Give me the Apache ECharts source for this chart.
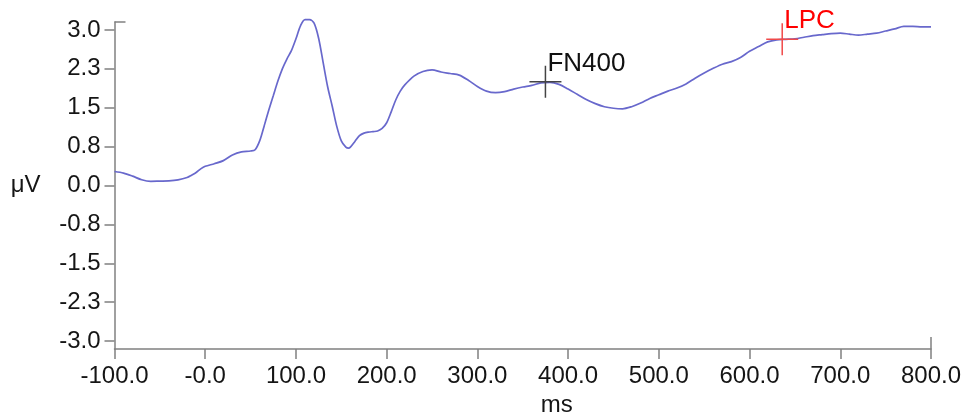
<!DOCTYPE html>
<html>
<head>
<meta charset="utf-8">
<script src="https://cdn.jsdelivr.net/npm/echarts@6/dist/echarts.min.js"></script>
<style>
  html, body { margin: 0; padding: 0; background: #fff; }
  #chart { width: 965px; height: 414px; }
</style>
</head>
<body>
<div id="chart"></div>
<script>
// ---- data ----
const times = [
  -100, -90, -80, -70, -60, -50, -40, -30, -20, -15, -10, -5,
  0, 10, 20, 30, 40, 50, 55, 60, 65, 70, 75, 80, 85, 90, 95,
  100, 105, 110, 115, 120, 125, 130, 135, 140, 145, 150, 155, 158,
  160, 165, 170, 175, 180, 185, 190, 195,
  200, 205, 210, 215, 220, 230, 240, 250, 260, 270, 280, 290,
  300, 310, 320, 330, 340, 350, 360, 370, 380, 390,
  400, 410, 420, 430, 440, 450, 460, 470, 480, 490,
  500, 510, 520, 530, 540, 550, 560, 570, 580, 590,
  600, 610, 620, 630, 640, 650, 660, 670, 680, 690,
  700, 710, 720, 730, 740, 750, 760, 770, 780, 790, 800
];
const amplitude = [
  0.27, 0.24, 0.18, 0.11, 0.08, 0.085, 0.09, 0.11, 0.155, 0.2, 0.25, 0.32,
  0.37, 0.42, 0.48, 0.59, 0.65, 0.665, 0.69, 0.86, 1.15, 1.45, 1.73, 2.01, 2.25, 2.44, 2.60,
  2.83, 3.08, 3.20, 3.20, 3.13, 2.84, 2.37, 1.90, 1.53, 1.14, 0.86, 0.74, 0.72,
  0.74, 0.85, 0.96, 1.01, 1.03, 1.04, 1.05, 1.10,
  1.21, 1.42, 1.65, 1.82, 1.94, 2.11, 2.20, 2.23, 2.19, 2.16, 2.13, 2.03,
  1.91, 1.82, 1.79, 1.81, 1.86, 1.90, 1.93, 1.98, 1.99, 1.95,
  1.86, 1.76, 1.66, 1.58, 1.52, 1.49, 1.48, 1.52, 1.59, 1.68,
  1.75, 1.82, 1.88, 1.96, 2.07, 2.17, 2.26, 2.34, 2.39, 2.47,
  2.59, 2.68, 2.77, 2.81, 2.82, 2.83, 2.86, 2.89, 2.91, 2.93,
  2.94, 2.92, 2.90, 2.92, 2.94, 2.98, 3.02, 3.07, 3.07, 3.06, 3.06
];
const yTicks = [-3, -2.25, -1.5, -0.75, 0, 0.75, 1.5, 2.25, 3];
const yRange = [-3.154, 3.154];
const xRange = [-100, 800];
const xStep = 100;
const markerNames = ['FN400', 'LPC'];
const markerTimes = [375, 636];
const markerValues = [2.0, 2.82];
const markerColors = ['#111111', '#ff0000'];
const markerCrossColors = ['#444444', '#f04a4a'];

// ---- chart ----
const FONT = "'Liberation Sans', Arial, sans-serif";
const chart = echarts.init(document.getElementById('chart'), null, { renderer: 'canvas' });

const lineData = times.map((t, i) => [t, amplitude[i]]);
const markerData = markerNames.map((n, i) => ({
  name: n,
  value: [markerTimes[i], markerValues[i]],
  itemStyle: { color: 'none', borderColor: markerCrossColors[i], borderWidth: 1.5, opacity: 1 },
  label: { color: markerColors[i] }
}));

const axisLineStyle = { color: '#808080', width: 1.5 };
const TEXT = '#151515';

chart.setOption({
  animation: false,
  backgroundColor: '#ffffff',
  grid: { left: 114.5, right: 34, top: 22, bottom: 65, containLabel: false, outerBoundsMode: 'none' },
  xAxis: {
    type: 'value',
    min: xRange[0], max: xRange[1], interval: xStep,
    name: 'ms', nameLocation: 'middle', nameGap: 42,
    nameTextStyle: { fontFamily: FONT, fontSize: 24, color: TEXT, padding: [0, 0, 0, 68] },
    axisLine: { show: true, onZero: false, lineStyle: axisLineStyle },
    axisTick: { show: true, length: 10, inside: false, lineStyle: axisLineStyle },
    axisLabel: {
      fontFamily: FONT, fontSize: 24, color: TEXT, margin: 15,
      formatter: v => (v === 0 ? '-0.0' : v.toFixed(1))
    },
    splitLine: { show: false }
  },
  yAxis: {
    type: 'value',
    min: yRange[0], max: yRange[1],
    name: 'μV', nameLocation: 'middle', nameGap: 74, nameRotate: 0,
    nameTextStyle: { fontFamily: FONT, fontSize: 24, color: TEXT },
    axisLine: { show: true, onZero: false, lineStyle: axisLineStyle },
    axisTick: { show: true, length: 10, customValues: yTicks, lineStyle: axisLineStyle },
    axisLabel: {
      fontFamily: FONT, fontSize: 24, color: TEXT, margin: 14,
      customValues: yTicks,
      formatter: v => v.toFixed(1)
    },
    splitLine: { show: false }
  },
  series: [
    {
      type: 'line',
      data: lineData,
      smooth: 0.3,
      showSymbol: false,
      symbol: 'none',
      clip: false,
      lineStyle: { color: '#6868cc', width: 1.7 },
      z: 2
    },
    {
      type: 'scatter',
      data: markerData,
      symbol: 'path://M0,16 L32,16 M16,0 L16,32',
      symbolSize: 32,
      clip: false,
      label: {
        show: true,
        formatter: p => p.name,
        position: [20.5, 0.5],
        align: 'left',
        verticalAlign: 'middle',
        fontFamily: FONT,
        fontSize: 26
      },
      z: 3
    }
  ]
});

// small end caps on the axes (as in the reference)
const topLeft = chart.convertToPixel({ gridIndex: 0 }, [xRange[0], yRange[1]]);
const bottomRight = chart.convertToPixel({ gridIndex: 0 }, [xRange[1], yRange[0]]);
chart.setOption({
  graphic: [
    { type: 'line', shape: { x1: topLeft[0], y1: topLeft[1], x2: topLeft[0] + 11, y2: topLeft[1] },
      style: { stroke: '#808080', lineWidth: 1.5 } },
    { type: 'line', shape: { x1: bottomRight[0], y1: bottomRight[1], x2: bottomRight[0], y2: bottomRight[1] - 12 },
      style: { stroke: '#808080', lineWidth: 1.5 } }
  ]
});
</script>
</body>
</html>
